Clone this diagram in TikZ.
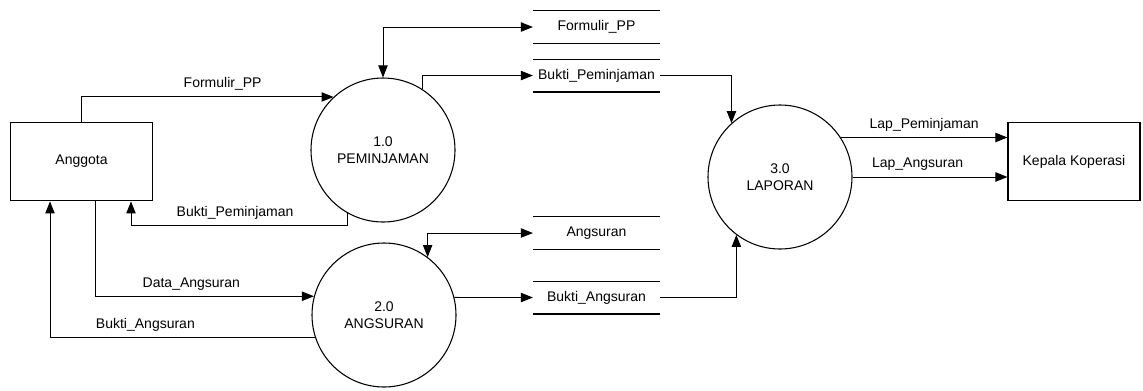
\documentclass[tikz,border=0pt]{standalone}
\usepackage{fontspec}
\setmainfont{Liberation Sans}
\usetikzlibrary{arrows.meta, positioning, calc}

\begin{document}
\begin{tikzpicture}[x=0.75pt, y=-0.75pt, font=\fontsize{10.5}{12.6}\selectfont,
	entity/.style={rectangle, draw, line width=0.8pt, minimum height=59pt, inner sep=0pt},
	process/.style={circle, draw, line width=0.8pt, minimum size=108pt, inner sep=0pt, align=center},
	store/.style={rectangle, minimum width=95pt, minimum height=24pt, inner sep=0pt},
	storeline/.style={draw, line width=1.1pt},
	flow/.style={draw, line width=0.7pt, -{Triangle[length=9pt, width=7pt]}},
	twoway/.style={draw, line width=0.7pt, {Triangle[length=9pt, width=7pt]}-{Triangle[length=9pt, width=7pt]}}]
				\useasboundingbox (0,0) rectangle (1143,390);
				
				\node [entity, minimum width=107pt] (ang) at (81.5,161.5) {Anggota};
				\node [entity, minimum width=99pt] (kep) at (1074,161.5) {Kepala Koperasi};
				\node [process] (p1) at (383,150) {1.0\\PEMINJAMAN};
				\node [process] (p2) at (384,315) {2.0\\ANGSURAN};
				\node [process] (p3) at (780,177) {3.0\\LAPORAN};
				\node [store] (sf) at (596.5,27) {Formulir\_PP};
				\node [store, below=0pt and 0pt of sf, yshift=-12pt] (sb) {Bukti\_Peminjaman};
				\node [store] (sa) at (596.5,233) {Angsuran};
				\node [store, below=0pt and 0pt of sa, yshift=-24pt] (sba) {Bukti\_Angsuran};
				
				% data stores
				\path[storeline]
				(sf.north west) -- (sf.north east) (sf.south west) -- (sf.south east)
				(sb.north west) -- (sb.north east) (sb.south west) -- (sb.south east)
				(sa.north west) -- (sa.north east) (sa.south west) -- (sa.south east)
				(sba.north west) -- (sba.north east) (sba.south west) -- (sba.south east);
				
				% Anggota <-> proses
				\path[flow] (ang.north) |- node[pos=0.78, above=1pt]{Formulir\_PP} (p1.133);
				\path[flow] (p1.241) -- ++(0,12) -| node[pos=0.26, above=1pt]{Bukti\_Peminjaman} ($(ang.south)+(49.5,0)$);
				\path[flow] ($(ang.south)+(13.5,0)$) |- node[pos=0.72, above=1pt]{Data\_Angsuran} (p2.165.5);
				\path[flow] (p2.198.6) -| node[pos=0.32, above=1pt]{Bukti\_Angsuran} ($(ang.south)+(-31.5,0)$);
				
				% proses <-> data store
				\path[twoway] (p1.90) |- (sf.west);
				\path[flow] (p1.57) |- (sb.west);
				\path[twoway] (p2.53) |- (sa.west);
				\path[flow] (p2.14.5) -- (sba.west);
				\path[flow] (sb.east) -| (p3.132);
				\path[flow] (sba.east) -| (p3.233);
				
				% Laporan -> Kepala Koperasi
				\path[flow] (p3.33) -- node[above=1pt]{Lap\_Peminjaman} (p3.33 -| kep.west);
				\path[flow] (p3.east) -- node[pos=0.42, above=1pt]{Lap\_Angsuran} (p3.east -| kep.west);
			\end{tikzpicture}
\end{document}
